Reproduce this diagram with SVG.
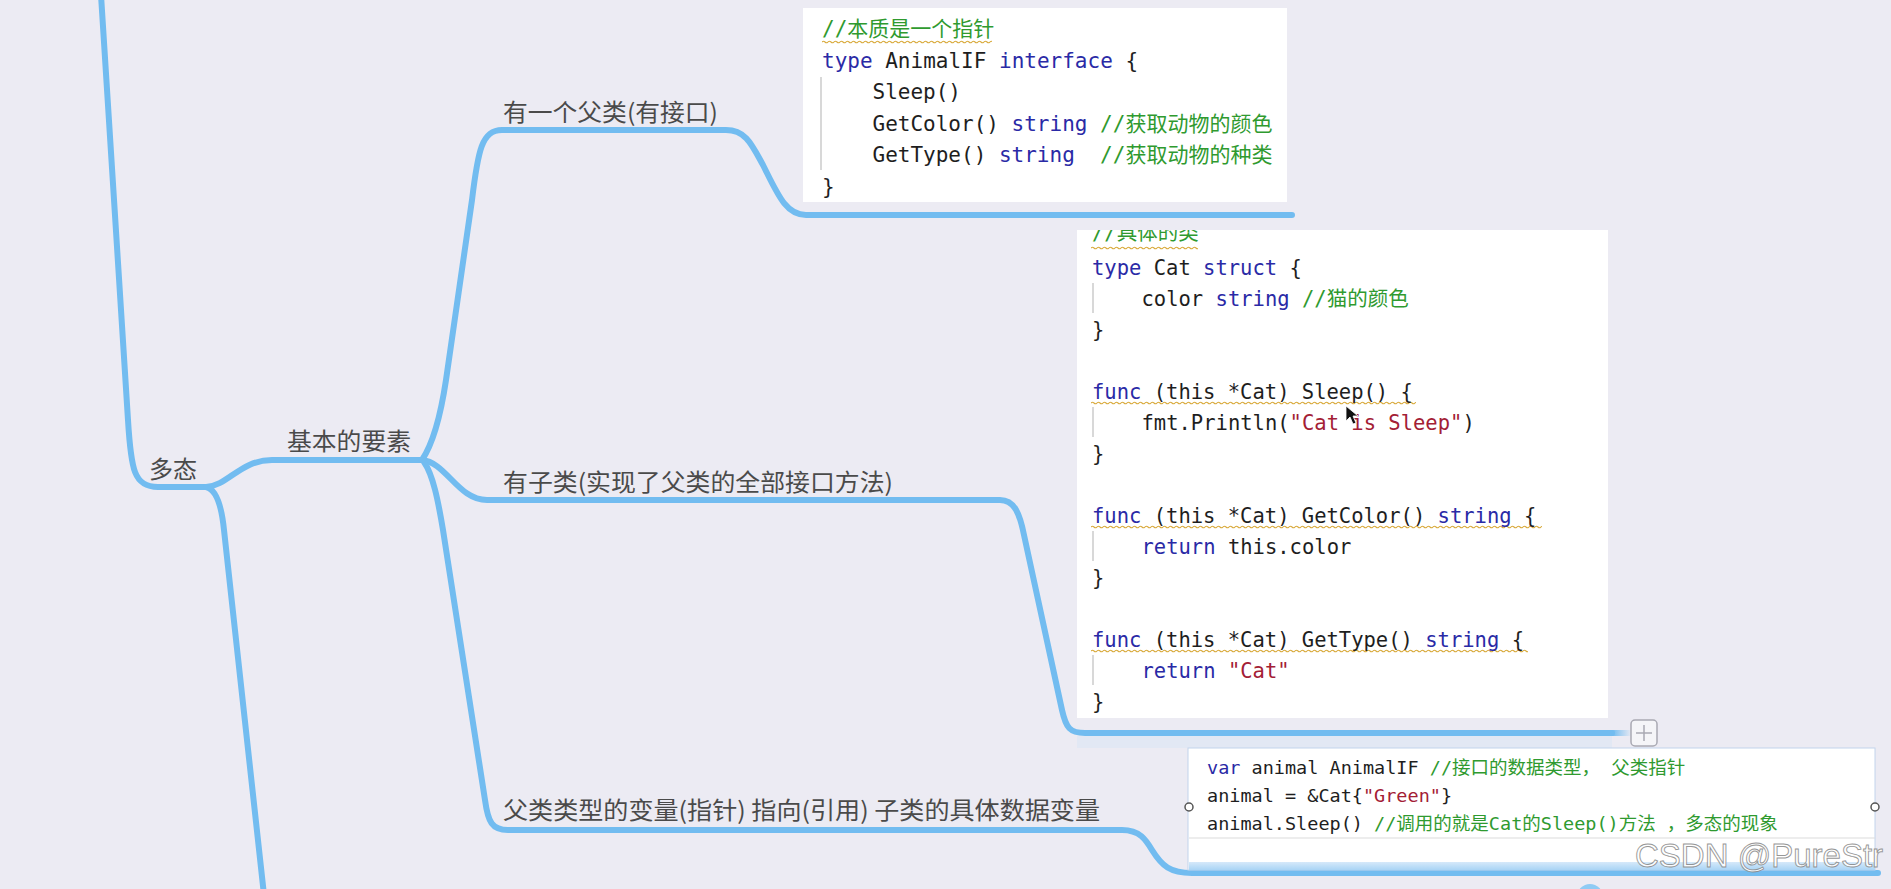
<svg xmlns="http://www.w3.org/2000/svg" width="1891" height="889" viewBox="0 0 1891 889">
<style>
.lbl{font-family:"Noto Sans CJK SC","Noto Sans",sans-serif;font-size:24px;fill:#4a4a4a}
.code{font-family:"DejaVu Sans Mono","Noto Sans CJK SC",monospace;fill:#1e1e1e;white-space:pre}
.c1{font-size:21px}.c2{font-size:20.5px}.c3{font-size:18.5px}
.k{fill:#2a2aa6}.g{fill:#2f9a2f}.s{fill:#a32035}
.box{fill:#ffffff}
.guide{stroke:#d8d8d8;stroke-width:2}
.wv{fill:url(#wave)}
</style>
<defs>
<pattern id="wave" width="6" height="4" patternUnits="userSpaceOnUse">
<path d="M0,2 Q1.5,0.4 3,2 T6,2" fill="none" stroke="#d9aa3c" stroke-width="1.1"/>
</pattern>
<clipPath id="clip2"><rect x="1077" y="230" width="531" height="488"/></clipPath>
<linearGradient id="band" x1="0" y1="0" x2="0" y2="1">
<stop offset="0" stop-color="#d6e9fa"/><stop offset="1" stop-color="#a9d4f5"/>
</linearGradient>
<linearGradient id="fade" x1="0" y1="0" x2="1" y2="0">
<stop offset="0" stop-color="#72bcf0"/><stop offset="1" stop-color="#72bcf0" stop-opacity="0"/>
</linearGradient>
</defs>
<rect width="1891" height="889" fill="#ecebf3"/>

<g id="connectors" fill="none" stroke="#72bcf0" stroke-width="6" stroke-linecap="round" stroke-linejoin="round">
<path d="M101,-5 L128,420 C131,470 134,487 158,487 L210,487"/>
<path d="M206,487 Q220,490 224,530 L264,895"/>
<path d="M206,487 C228,486 240,460 272,460 L424,460"/>
<path d="M422,460 C432,445 440,420 446,380 L472,200 C478,150 482,130 502,130 L726,130 C746,130 752,145 763,165 C778,195 786,215 806,215 L1292,215"/>
<path d="M422,460 C446,462 458,500 487,500 L1000,500 C1015,500 1020,515 1024,535 L1062,710 C1066,728 1070,733 1085,733 L1612,733"/>
<path d="M424,462 C433,475 438,500 443,530 L485,800 C488,822 492,830 508,830 L1122,830 C1140,830 1146,840 1152,850 C1162,866 1170,873 1192,873 L1878,873"/>
</g>
<rect x="1612" y="730" width="20" height="6" fill="url(#fade)"/>

<g id="node-duotai"><text class="lbl" x="149" y="478" textLength="48" lengthAdjust="spacingAndGlyphs">多态</text></g>
<g id="node-jiben"><text class="lbl" x="287" y="450" textLength="124" lengthAdjust="spacingAndGlyphs">基本的要素</text></g>
<g id="node-fulei"><text class="lbl" x="503" y="121" textLength="215" lengthAdjust="spacingAndGlyphs">有一个父类(有接口)</text></g>
<g id="node-zilei"><text class="lbl" x="503" y="491" textLength="390" lengthAdjust="spacingAndGlyphs">有子类(实现了父类的全部接口方法)</text></g>
<g id="node-bianliang"><text class="lbl" x="503" y="819" textLength="597" lengthAdjust="spacingAndGlyphs">父类类型的变量(指针) 指向(引用) 子类的具体数据变量</text></g>

<g id="code-interface">
<rect class="box" x="803" y="8" width="484" height="194"/>
<line class="guide" x1="821" y1="77" x2="821" y2="170"/>
<rect class="wv" transform="translate(822,40)" width="170" height="4"/>
<text class="code c1" x="822" y="36"><tspan class="g">//本质是一个指针</tspan></text>
<text class="code c1" x="822" y="67.5"><tspan class="k">type</tspan> AnimalIF <tspan class="k">interface</tspan> {</text>
<text class="code c1" x="872.5" y="99">Sleep()</text>
<text class="code c1" x="872.5" y="130.5">GetColor() <tspan class="k">string</tspan> <tspan class="g">//获取动物的颜色</tspan></text>
<text class="code c1" x="872.5" y="162">GetType() <tspan class="k">string</tspan>  <tspan class="g">//获取动物的种类</tspan></text>
<text class="code c1" x="822" y="193.5">}</text>
</g>

<g id="code-cat">
<rect class="box" x="1077" y="230" width="531" height="488"/>
<g clip-path="url(#clip2)">
<line class="guide" x1="1093" y1="283" x2="1093" y2="313"/>
<line class="guide" x1="1093" y1="407" x2="1093" y2="437"/>
<line class="guide" x1="1093" y1="531" x2="1093" y2="561"/>
<line class="guide" x1="1093" y1="655" x2="1093" y2="685"/>
<rect class="wv" transform="translate(1091,246)" width="107" height="4"/>
<rect class="wv" transform="translate(1091,401)" width="325" height="4"/>
<rect class="wv" transform="translate(1091,525)" width="451" height="4"/>
<rect class="wv" transform="translate(1091,649)" width="437" height="4"/>
<text class="code c2" x="1092" y="240"><tspan class="g">//具体的类</tspan></text>
<text class="code c2" x="1092" y="275"><tspan class="k">type</tspan> Cat <tspan class="k">struct</tspan> {</text>
<text class="code c2" x="1141.5" y="306">color <tspan class="k">string</tspan> <tspan class="g">//猫的颜色</tspan></text>
<text class="code c2" x="1092" y="337">}</text>
<text class="code c2" x="1092" y="399"><tspan class="k">func</tspan> (this *Cat) Sleep() {</text>
<text class="code c2" x="1141.5" y="430">fmt.Println(<tspan class="s">"Cat is Sleep"</tspan>)</text>
<text class="code c2" x="1092" y="461">}</text>
<text class="code c2" x="1092" y="523"><tspan class="k">func</tspan> (this *Cat) GetColor() <tspan class="k">string</tspan> {</text>
<text class="code c2" x="1141.5" y="554"><tspan class="k">return</tspan> this.color</text>
<text class="code c2" x="1092" y="585">}</text>
<text class="code c2" x="1092" y="647"><tspan class="k">func</tspan> (this *Cat) GetType() <tspan class="k">string</tspan> {</text>
<text class="code c2" x="1141.5" y="678"><tspan class="k">return</tspan> <tspan class="s">"Cat"</tspan></text>
<text class="code c2" x="1092" y="709">}</text>
</g>
<polygon points="1346,406 1346,421 1350,417 1353,424 1356,423 1353,416 1358,416" fill="#111" stroke="#fff" stroke-width="0.8"/>
</g>

<g id="add-button">
<rect x="1631" y="720" width="26" height="26" rx="4" fill="#f5f5f8" stroke="#a9a9b2" stroke-width="1.5"/>
<path d="M1636,733 H1652 M1644,725 V741" stroke="#a9a9b2" stroke-width="1.5"/>
</g>

<g id="code-usage">
<rect x="1077" y="736" width="535" height="12" fill="#e2e8f4"/>
<rect class="box" x="1188" y="748" width="687" height="122" stroke="#c2d4ec" stroke-width="1"/>
<rect x="1189" y="862" width="686" height="8" fill="url(#band)"/>
<line x1="1189" y1="838" x2="1875" y2="838" stroke="#dcdcdc" stroke-width="1.2"/>
<circle cx="1189" cy="807" r="4" fill="#fff" stroke="#555" stroke-width="1.5"/>
<circle cx="1875" cy="807" r="4" fill="#fff" stroke="#555" stroke-width="1.5"/>
<text class="code c3" x="1207" y="773.5"><tspan class="k">var</tspan> animal AnimalIF <tspan class="g">//接口的数据类型， 父类指针</tspan></text>
<text class="code c3" x="1207" y="801.5">animal = &amp;Cat{<tspan class="s">"Green"</tspan>}</text>
<text class="code c3" x="1207" y="829.5">animal.Sleep() <tspan class="g">//调用的就是Cat的Sleep()方法 ，多态的现象</tspan></text>
</g>

<circle cx="1590" cy="897" r="13" fill="#8fcbf4"/>
<text x="1635" y="867" font-family="Liberation Sans, Arial, sans-serif" font-size="33" fill="#ffffff" stroke="#8c8c8c" stroke-width="0.9" opacity="0.9">CSDN @PureStr</text>
</svg>
